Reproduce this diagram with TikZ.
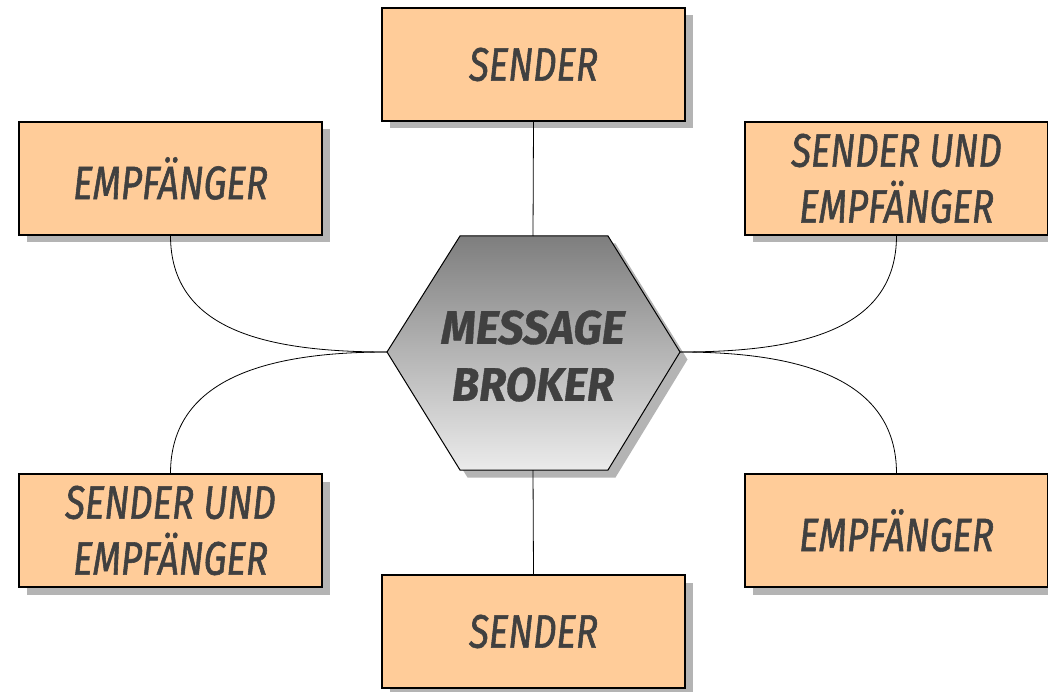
\documentclass[tikz,border=0pt]{standalone}
\usepackage{fontspec}
\newfontfamily\lblfont[FakeStretch=0.78,FakeBold=1.2]{Fira Sans}
\newfontfamily\hubfont[FakeStretch=0.95,FakeBold=0.8]{Fira Sans}
\definecolor{boxfill}{HTML}{FFCC99}
\definecolor{ink}{HTML}{404040}
\definecolor{shadowgray}{HTML}{B4B4B4}
\definecolor{hubtop}{HTML}{7E7E7E}
\definecolor{hubbot}{HTML}{EBEBEB}
\begin{document}
\begin{tikzpicture}[x=1pt,y=-1pt,
  role/.style={draw=black, line width=1.1pt, fill=boxfill,
    minimum width=303pt, minimum height=113pt, inner sep=0pt,
    align=center, text=ink,
    font=\lblfont\itshape\fontsize{47}{56}\selectfont},
  link/.style={draw=black, line width=0.8pt}]
\useasboundingbox (0,0) rectangle (1048,692);

% drop shadows
\fill[shadowgray] (389.5,15.5) rectangle (692.5,128.5);
\fill[shadowgray] (26.5,129.5) rectangle (329.5,242.5);
\fill[shadowgray] (752.5,129.5) rectangle (1048,242.5);
\fill[shadowgray] (26.5,481.5) rectangle (329.5,594.5);
\fill[shadowgray] (752.5,481.5) rectangle (1048,594.5);
\fill[shadowgray] (389.5,582.5) rectangle (692.5,692);
\fill[shadowgray] (394.5,359.5) -- (467.5,243.5) -- (615.5,243.5) -- (687.5,359.5) -- (615.5,477.5) -- (467.5,477.5) -- cycle;

% hub hexagon
\coordinate (hubW) at (387,352);
\coordinate (hubE) at (680,352);
\coordinate (hubN) at (533,236);
\coordinate (hubS) at (533,470);
\shade[top color=hubtop, bottom color=hubbot, draw=black, line width=1pt]
  (hubW) -- (460,236) -- (608,236) -- (hubE) -- (608,470) -- (460,470) -- cycle;
\node[align=center, text=ink,
  font=\hubfont\bfseries\itshape\fontsize{47}{57}\selectfont] (hub) at (533,356) {MESSAGE\\BROKER};

% role boxes
\node[role] (s1) at (533.5,64.5) {SENDER};
\node[role] (e1) at (170.5,178.5) {EMPFÄNGER};
\node[role] (se1) at (896.5,178.5) {SENDER UND\\EMPFÄNGER};
\node[role] (se2) at (170.5,530.5) {SENDER UND\\EMPFÄNGER};
\node[role] (e2) at (896.5,530.5) {EMPFÄNGER};
\node[role] (s2) at (533.5,631.5) {SENDER};

% connectors
\draw[link] (s1.south) -- (hubN);
\draw[link] (hubS) -- (s2.north);
\draw[link] (e1.south) .. controls +(0,95) and +(-120,0) .. (hubW);
\draw[link] (se2.north) .. controls +(0,-95) and +(-120,0) .. (hubW);
\draw[link] (se1.south) .. controls +(0,95) and +(120,0) .. (hubE);
\draw[link] (e2.north) .. controls +(0,-95) and +(120,0) .. (hubE);
\end{tikzpicture}
\end{document}
